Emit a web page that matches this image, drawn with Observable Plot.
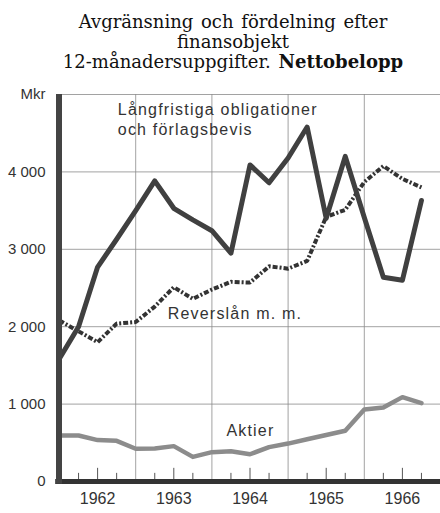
<!DOCTYPE html>
<html><head><meta charset="utf-8">
<script src="https://cdn.jsdelivr.net/npm/d3@7"></script>
<script src="https://cdn.jsdelivr.net/npm/@observablehq/plot@0.6"></script>
<style>
body{margin:0;background:#fff;}
#title{width:440px;height:80px;box-sizing:border-box;padding-left:26px;padding-top:12px;text-align:center;font-family:"DejaVu Serif";font-size:18px;line-height:20px;color:#111;word-spacing:2px;}
#chart svg{display:block;}
</style></head><body>
<div id="title">Avgränsning och fördelning efter<br>finansobjekt<br>12-månadersuppgifter. <b>Nettobelopp</b></div>
<div id="chart"></div>
<script>
const quarters = [1962, 1962.25, 1962.5, 1962.75, 1963, 1963.25, 1963.5, 1963.75, 1964, 1964.25, 1964.5, 1964.75, 1965, 1965.25, 1965.5, 1965.75, 1966, 1966.25, 1966.5, 1966.75];
const langfristiga = [1590, 2000, 2770, 3130, 3500, 3885, 3530, 3380, 3240, 2950, 4090, 3860, 4180, 4580, 3400, 4200, 3410, 2640, 2600, 3630];
const reverslan = [2080, 1940, 1800, 2040, 2060, 2260, 2510, 2360, 2480, 2580, 2570, 2780, 2750, 2850, 3420, 3510, 3870, 4075, 3910, 3800];
const aktier = [595, 595, 535, 525, 423, 425, 457, 318, 379, 392, 352, 444, 490, 545, 600, 655, 930, 955, 1090, 1013];
const yTicks = [0, 1000, 2000, 3000, 4000, 5000];
const yearLabels = ["1962", "1963", "1964", "1965", "1966"];
const seriesLabels = ["Långfristiga obligationer", "och förlagsbevis", "Reverslån m. m.", "Aktier"];

const rows = quarters.map((q, i) => ({q, l: langfristiga[i], r: reverslan[i], a: aktier[i]}));
const minorTicks = quarters.filter(q => q % 1 !== 0);
const fmt = d => d === 5000 ? "Mkr" : (d === 0 ? "0" : d3.format(",")(d).replace(",", " "));

const plot = Plot.plot({
  width: 440, height: 433,
  marginLeft: 59, marginRight: 0, marginTop: 14, marginBottom: 32,
  x: {domain: [1962, 1967], axis: null},
  y: {domain: [0, 5000], axis: null},
  style: {fontFamily: "Liberation Sans", color: "#333", background: "#fff"},
  marks: [
    Plot.ruleY(yTicks.filter(d => d > 0), {stroke: "#8a8a8a", strokeWidth: 0.8}),
    Plot.ruleX([1963, 1964, 1965, 1966], {y1: 0, y2: 5000, stroke: "#8a8a8a", strokeWidth: 0.8}),
    Plot.ruleX(minorTicks, {x: d => d, y1: 0, y2: d => (d % 1 === 0.5 ? 170 : 105), stroke: "#555", strokeWidth: 1}),
    Plot.line(rows, {x: "q", y: "a", stroke: "#8c8c8c", strokeWidth: 4.5, strokeLinejoin: "round"}),
    Plot.line(rows, {x: "q", y: "r", stroke: "#333", strokeWidth: 4, strokeLinecap: "butt", strokeLinejoin: "miter", strokeDasharray: "5,2,2,2"}),
    Plot.line(rows, {x: "q", y: "l", stroke: "#404040", strokeWidth: 5, strokeLinejoin: "round"}),
    Plot.ruleY([0], {x1: 1961.95, x2: 1967, stroke: "#333", strokeWidth: 5}),
    Plot.ruleX([1962], {y1: -35, y2: 5000, stroke: "#444", strokeWidth: 6, dx: -0.5}),
    Plot.text(yTicks, {x: 1962, y: d => d, text: fmt, textAnchor: "end", dx: -14, fontSize: 15, fill: "#333"}),
    Plot.text(yearLabels, {x: d => +d + 0.5, y: 0, dy: 17, text: d => d, fontSize: 16, fill: "#333"}),
    Plot.text([seriesLabels[0]], {x: 1962.765, y: 4800, text: d => d, textAnchor: "start", fontSize: 16, fill: "#333"}),
    Plot.text([seriesLabels[1]], {x: 1962.765, y: 4545, text: d => d, textAnchor: "start", fontSize: 16, fill: "#333"}),
    Plot.text([seriesLabels[2]], {x: 1963.42, y: 2164, text: d => d, textAnchor: "start", fontSize: 16, fill: "#333"}),
    Plot.text([seriesLabels[3]], {x: 1964.19, y: 660, text: d => d, textAnchor: "start", fontSize: 16, fill: "#333"})
  ]
});
d3.select(plot).selectAll("text").filter(function() {
  return seriesLabels.includes(this.textContent);
}).attr("letter-spacing", "1.2px");
document.getElementById("chart").appendChild(plot);
</script>
</body></html>
